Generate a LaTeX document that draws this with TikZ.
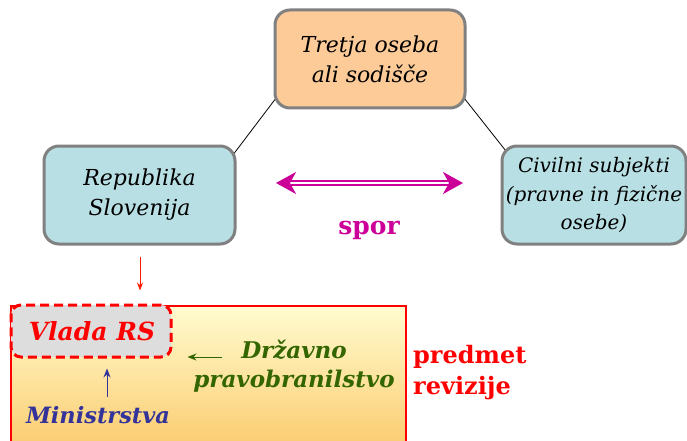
\documentclass[tikz,border=0pt]{standalone}
\usepackage{fontspec}
\setmainfont{DejaVu Serif}
\usetikzlibrary{arrows.meta,calc,backgrounds}
\definecolor{boxgray}{HTML}{808080}
\definecolor{peach}{HTML}{FCCB98}
\definecolor{paleblue}{HTML}{B8E0E4}
\definecolor{mag}{HTML}{CC0099}
\definecolor{dgreen}{HTML}{336600}
\definecolor{dblue}{HTML}{333399}
\definecolor{vgray}{HTML}{DDDDDD}
\definecolor{ytop}{HTML}{FFFCD0}
\definecolor{ybot}{HTML}{FBC96A}
\tikzset{
  partybox/.style={draw=boxgray, line width=3pt, rounded corners=15pt, align=center,
    font=\fontsize{22}{30}\selectfont\itshape, inner sep=0pt},
  bigtxt/.style={font=\fontsize{23}{29}\selectfont\bfseries\itshape, align=center, inner sep=0pt},
}
\begin{document}
\begin{tikzpicture}[x=1pt,y=-1pt]
\useasboundingbox (0,0) rectangle (687,441);
% party boxes
\node[partybox, fill=peach, minimum width=190pt, minimum height=98pt] (tretja) at (370,59) {Tretja oseba\\ali sodišče};
\node[partybox, fill=paleblue, minimum width=191pt, minimum height=98pt] (rep) at (139.5,195) {Republika\\Slovenija};
\node[partybox, fill=paleblue, minimum width=184pt, minimum height=98pt,
  font=\fontsize{20}{28.5}\selectfont\itshape] (civ) at (594,195) {Civilni subjekti\\(pravne in fizične\\osebe)};
\begin{scope}[on background layer]
\draw[line width=0.8pt] ($(tretja.south west)+(6,-16)$) -- ($(rep.north east)+(-4,11)$);
\draw[line width=0.8pt] ($(tretja.south east)+(-6,-16)$) -- ($(civ.north west)+(9,11)$);
\end{scope}
% spor arrow
\coordinate (sl) at (276,183);
\coordinate (sr) at (463,183);
\draw[mag, line width=2pt, double=white, double distance=1.6pt,
  {Stealth[length=20pt,width=22pt,inset=6pt]}-{Stealth[length=20pt,width=22pt,inset=6pt]}] (sl) -- (sr);
\node[font=\fontsize{25}{25}\selectfont\bfseries, text=mag, inner sep=0pt] (spor) at (369,230) {spor};
% revision subject area
\node[draw=red, line width=2.5pt, top color=ytop, bottom color=ybot, minimum width=395pt, minimum height=150pt, inner sep=0pt, anchor=north west] (area) at (9.5,304.5) {};
\node[draw=red, line width=3pt, dash pattern=on 9pt off 5pt, fill=vgray, rounded corners=10pt,
  minimum width=160pt, minimum height=52pt, inner sep=0pt] (vlada) at (91,331) {};
\node[bigtxt, text=red, font=\fontsize{25}{26}\selectfont\bfseries\itshape] (vladat) at (92,331) {Vlada RS};
\node[bigtxt, text=dgreen] (dp) at (294,366) {Državno\\pravobranilstvo};
\node[bigtxt, text=dblue, font=\fontsize{22.5}{26}\selectfont\bfseries\itshape] (min) at (98,415) {Ministrstva};
\node[font=\fontsize{24}{31}\selectfont\bfseries, text=red, align=left, inner sep=0pt, anchor=west] (pr) at (413,373) {predmet\\revizije};
% arrows
\draw[-{Stealth[length=8pt,width=6pt]}, red!80!orange, line width=0.8pt] ($(rep.south)+(0.5,11)$) -- ($(rep.south)+(0.5,45)$);
\coordinate (ga) at (222,357);
\draw[-{Stealth[length=9pt,width=7pt]}, dgreen, line width=0.9pt] (ga) -- ($(vlada.east |- ga)+(15,0)$);
\draw[-{Stealth[length=9pt,width=7pt]}, dblue, line width=0.9pt] ($(min.north)+(9,-9)$) -- ($(vlada.south)+(16,10)$);
\end{tikzpicture}
\end{document}
